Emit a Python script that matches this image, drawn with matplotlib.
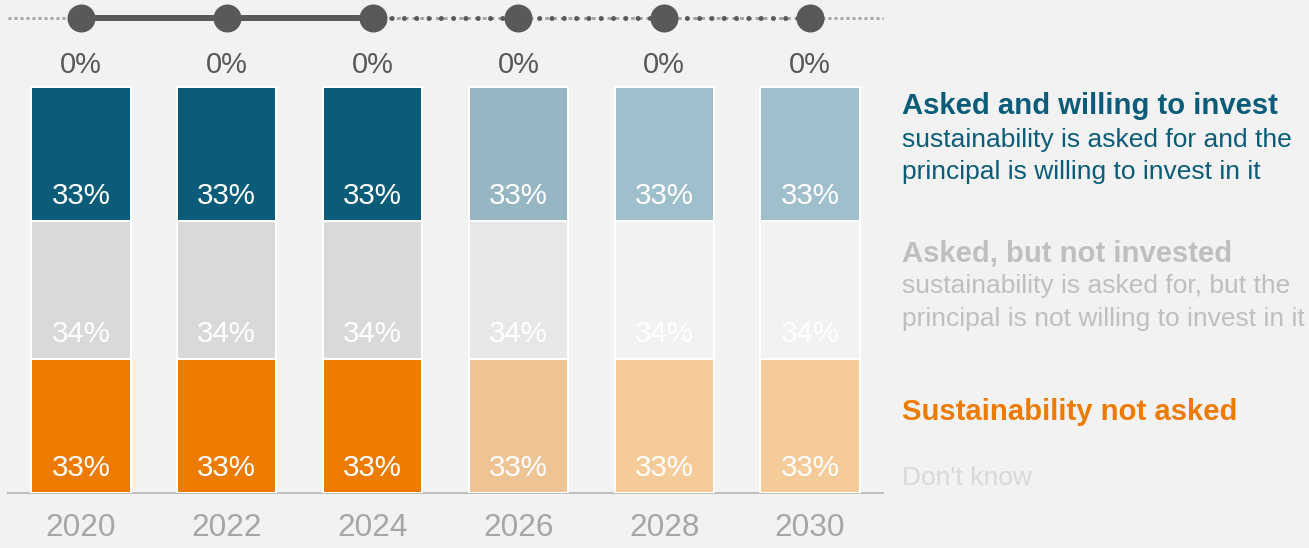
import matplotlib
matplotlib.use("Agg")
import matplotlib.pyplot as plt
import numpy as np

plt.rcParams['font.family'] = ['Liberation Sans', 'DejaVu Sans']

# ---- data ----
years = ["2020", "2022", "2024", "2026", "2028", "2030"]
not_asked = [33, 33, 33, 33, 33, 33]
asked_not_invested = [34, 34, 34, 34, 34, 34]
asked_invested = [33, 33, 33, 33, 33, 33]
dont_know = [0, 0, 0, 0, 0, 0]
n_actual = 3  # first three years are observed, the rest are projections

# ---- styling ----
BG = "#F2F2F2"
blue_cols = ["#0A5C78", "#0A5C78", "#0A5C78", "#97B6C4", "#A0BFCC", "#A0BFCC"]
grey_cols = ["#D9D9D9", "#D9D9D9", "#D9D9D9", "#E7E7E7", "#F2F2F2", "#F2F2F2"]
orange_cols = ["#EC7B00", "#EC7B00", "#EC7B00", "#EFC495", "#F5CB9A", "#F5CB9A"]

W, H, DPI = 1309, 548, 100
fig = plt.figure(figsize=(W / DPI, H / DPI), dpi=DPI, facecolor=BG)

# axes placed so that 0..100 % spans the bar area
ax_left, ax_right = 8 / W, 883 / W
y0_px, y100_px = 493, 87
px_per_pct = (y0_px - y100_px) / 100
ymax = 120
top_px = y0_px - ymax * px_per_pct
ax = fig.add_axes([ax_left, 1 - y0_px / H, ax_right - ax_left, (y0_px - top_px) / H])
ax.set_facecolor(BG)

x = np.arange(len(years))
bw = 0.68
pt = 72 / DPI  # points per pixel

segments = [
    (not_asked, orange_cols),
    (asked_not_invested, grey_cols),
    (asked_invested, blue_cols),
]
bottom = np.zeros(len(years))
for vals, cols in segments:
    vals = np.array(vals, dtype=float)
    ax.bar(x, vals, bw, bottom=bottom, color=cols, edgecolor="white",
           linewidth=2 * pt, zorder=3)
    for xi, b, v in zip(x, bottom, vals):
        ax.annotate(f"{v:.0f}%", (xi, b), xytext=(0, 17 * pt),
                    textcoords="offset points", ha="center", va="baseline",
                    color="white", fontsize=29.5 * pt, zorder=4)
    bottom = bottom + vals

# "Don't know" share written above each stack
for xi, b, v in zip(x, bottom, dont_know):
    ax.annotate(f"{v:.0f}%", (xi, b + v), xytext=(0, 14 * pt),
                textcoords="offset points", ha="center", va="baseline",
                color="#595959", fontsize=29 * pt)

# ---- timeline across the top ----
ty = 117
dark = "#595959"
light = "#A6A6A6"
# outer dashed stubs
ax.plot([-0.5, 0], [ty, ty], color=light, lw=3 * pt, ls=(0, (1, 1)),
        clip_on=False, zorder=1)
ax.plot([x[-1], 5.5], [ty, ty], color=light, lw=3 * pt, ls=(0, (1, 1)),
        clip_on=False, zorder=1)
# solid line through observed years
ax.plot(x[:n_actual], [ty] * n_actual, color=dark, lw=6 * pt,
        solid_capstyle="butt", clip_on=False, zorder=2)
# projected years: light dashes with dark dots
xp = x[n_actual - 1:]
ax.plot(xp, [ty] * len(xp), color=light, lw=3 * pt, ls=(0, (1.3, 1.3)),
        clip_on=False, zorder=1)
ax.plot(xp, [ty] * len(xp), color=dark, lw=5 * pt, ls=(1.2, (0.01, 2.45)),
        dash_capstyle="round", clip_on=False, zorder=2)
ax.scatter(x, [ty] * len(x), s=(28 * pt) ** 2, color=dark, zorder=5,
           clip_on=False, linewidths=0)

# ---- axes cosmetics ----
ax.set_xlim(-0.5, len(years) - 0.5)
ax.set_ylim(0, ymax)
ax.set_yticks([])
ax.set_xticks(x)
ax.set_xticklabels(years, color="#A6A6A6", fontsize=31.5 * pt)
ax.tick_params(axis="x", length=0, pad=20 * pt)
for s in ["top", "left", "right"]:
    ax.spines[s].set_visible(False)
ax.spines["bottom"].set_color("#BFBFBF")
ax.spines["bottom"].set_linewidth(2 * pt)

# ---- legend text on the right ----
lx = 902 / W
def ftext(ypx, s, color, size, weight="normal"):
    fig.text(lx, 1 - ypx / H, s, color=color, fontsize=size * pt,
             fontweight=weight, ha="left", va="baseline")

ftext(114, "Asked and willing to invest", "#0A5C78", 29.3, "bold")
ftext(146.5, "sustainability is asked for and the", "#0A5C78", 26.4)
ftext(179, "principal is willing to invest in it", "#0A5C78", 26.4)

ftext(261.5, "Asked, but not invested", "#BFBFBF", 29.3, "bold")
ftext(293, "sustainability is asked for, but the", "#BFBFBF", 26.4)
ftext(326, "principal is not willing to invest in it", "#BFBFBF", 26.4)

ftext(420.5, "Sustainability not asked", "#EC7B00", 29.3, "bold")
ftext(485, "Don't know", "#D9D9D9", 26.4)

fig.savefig("out.png", dpi=DPI, facecolor=BG)
